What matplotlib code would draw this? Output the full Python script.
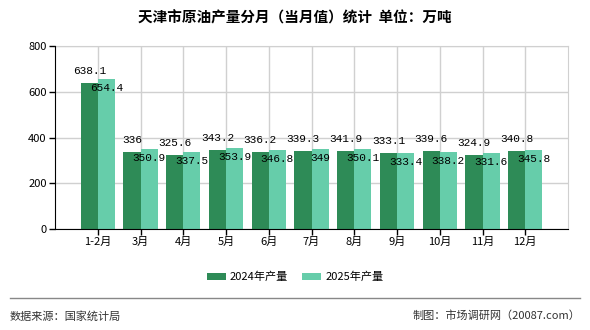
import matplotlib
matplotlib.use("Agg")
import matplotlib.pyplot as plt
import numpy as np

plt.rcParams['font.family'] = ['Noto Sans CJK SC', 'DejaVu Sans']

categories = ['1-2月', '3月', '4月', '5月', '6月', '7月', '8月', '9月', '10月', '11月', '12月']
values_2024 = [638.1, 336, 325.6, 343.2, 336.2, 339.3, 341.9, 333.1, 339.6, 324.9, 340.8]
values_2025 = [654.4, 350.9, 337.5, 353.9, 346.8, 349, 350.1, 333.4, 338.2, 331.6, 345.8]
labels_2024 = ['638.1', '336', '325.6', '343.2', '336.2', '339.3', '341.9', '333.1', '339.6', '324.9', '340.8']
labels_2025 = ['654.4', '350.9', '337.5', '353.9', '346.8', '349', '350.1', '333.4', '338.2', '331.6', '345.8']
series_names = ['2024年产量', '2025年产量']
yticks = [0, 200, 400, 600, 800]

c1 = '#2E8B57'
c2 = '#66CDAA'

fig = plt.figure(figsize=(5.9, 3.3), dpi=100)
ax = fig.add_axes([55/590, 1-229/330, (568-55)/590, (229-46)/330])

x = np.arange(len(categories))
w = 0.4
b1 = ax.bar(x - w/2, values_2024, w, color=c1, zorder=3, label=series_names[0])
b2 = ax.bar(x + w/2, values_2025, w, color=c2, zorder=3, label=series_names[1])

mono = ['Liberation Mono', 'DejaVu Sans Mono']
for xi, v, t in zip(x, values_2024, labels_2024):
    ax.annotate(t, (xi - w/2, v), xytext=(0, 12), textcoords='offset pixels',
                ha='center', va='center', fontsize=8, family=mono, zorder=5)
for xi, v, t in zip(x, values_2025, labels_2025):
    ax.annotate(t, (xi + w/2, v), xytext=(0, -9), textcoords='offset pixels',
                ha='center', va='center', fontsize=8, family=mono, zorder=5)

ax.set_xlim(-1, len(categories))
ax.set_ylim(0, 800)
ax.set_yticks(yticks)
ax.set_yticklabels([str(t) for t in yticks], fontsize=8)
ax.set_xticks(x)
ax.set_xticklabels(categories, fontsize=8)
ax.grid(True, color='#d0d0d0', linewidth=1, zorder=0)
ax.tick_params(axis='both', length=4, width=1, color='black', pad=2)
for s in ['top', 'right']:
    ax.spines[s].set_color('#d0d0d0')
for s in ['left', 'bottom']:
    ax.spines[s].set_color('black')
    ax.spines[s].set_zorder(4)

fig.text(0.5, 1-18/330, '天津市原油产量分月（当月值）统计  单位：万吨', ha='center', va='center',
         fontsize=10.5, fontweight='bold')

leg = fig.legend(handles=[b1, b2], labels=series_names, loc='center', bbox_to_anchor=(0.5, 1-277/330),
                 ncol=2, frameon=False, fontsize=8, handlelength=1.7, handleheight=0.55,
                 columnspacing=1.3, handletextpad=0.35)

fig.add_artist(plt.Line2D([10/590, 580/590], [1-298/330, 1-298/330], color='#888888', linewidth=1))
fig.text(10/590, 1-316/330, '数据来源：国家统计局', ha='left', va='center', fontsize=8, color='#333333')
fig.text(580/590, 1-316/330, '制图：市场调研网（20087.com）', ha='right', va='center', fontsize=8, color='#333333')

fig.savefig('out.png', dpi=100)
